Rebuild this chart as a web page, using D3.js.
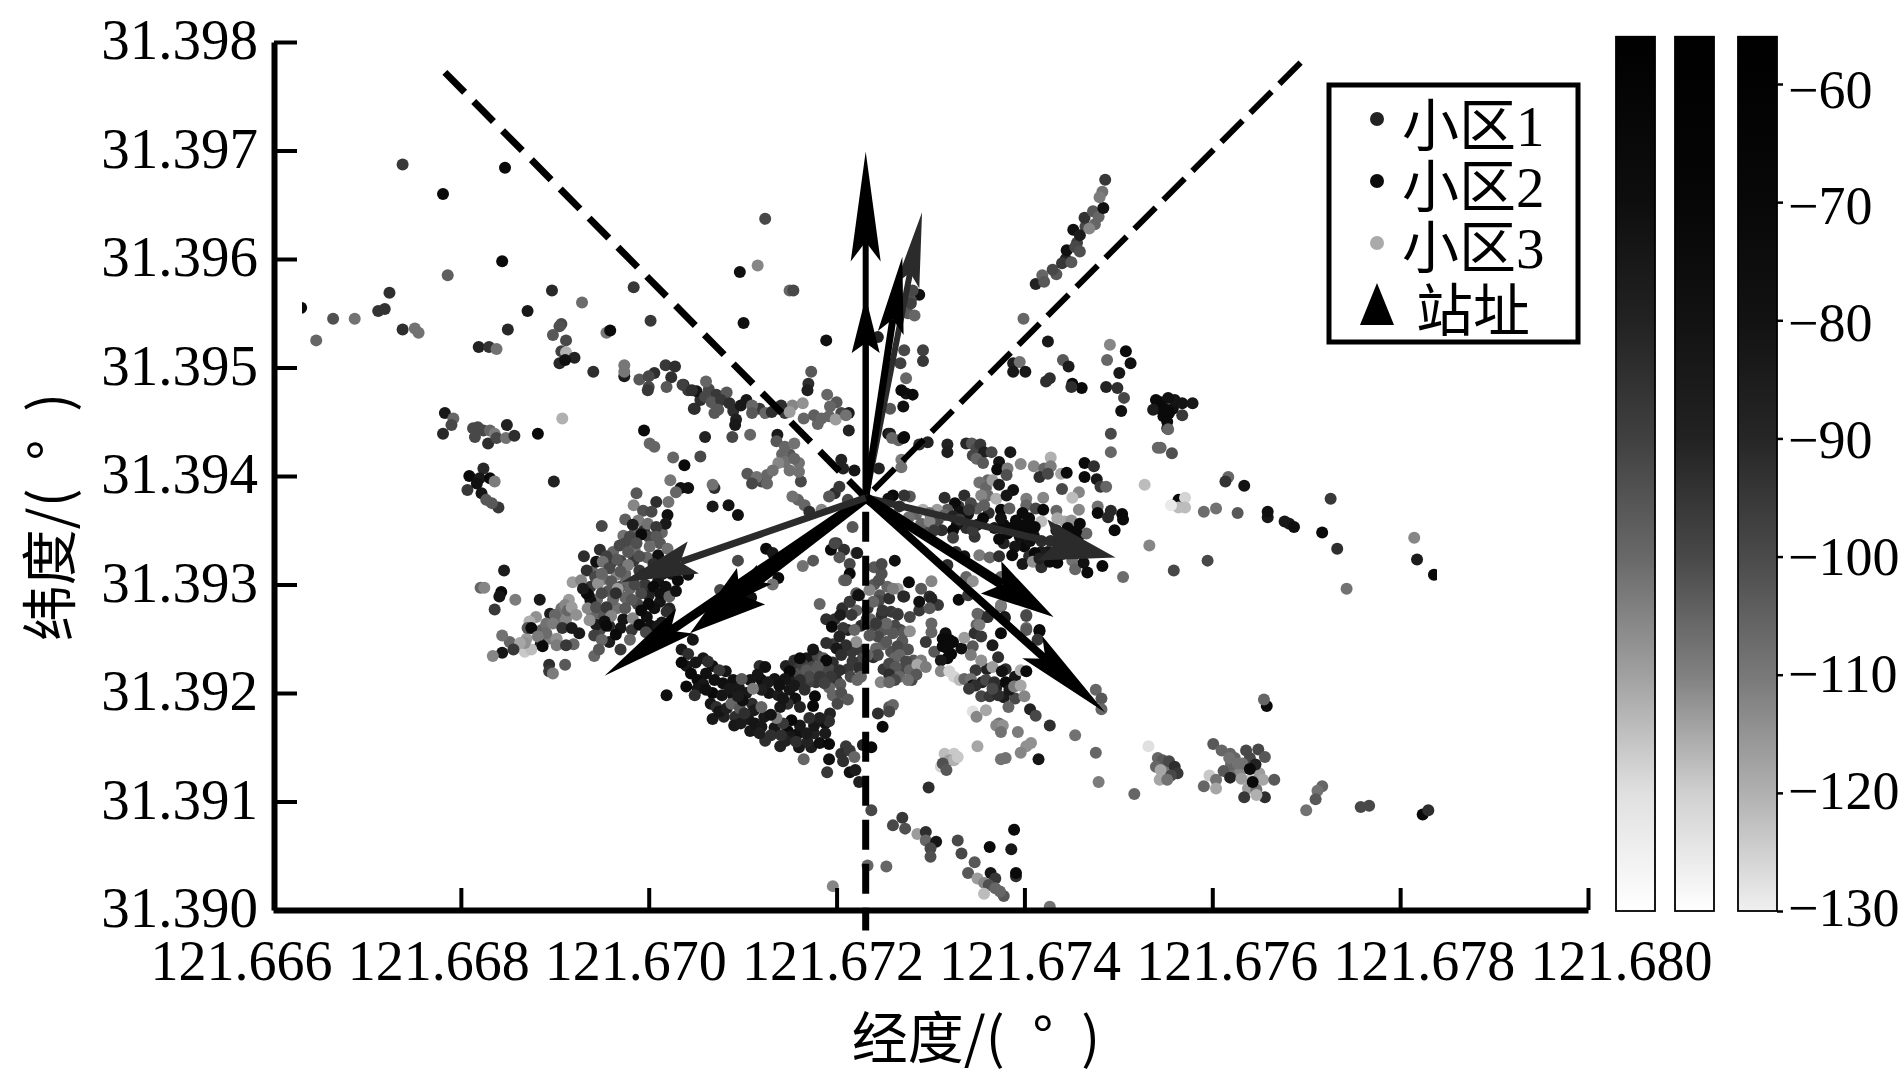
<!DOCTYPE html>
<html><head><meta charset="utf-8">
<script src="https://cdnjs.cloudflare.com/ajax/libs/d3/7.8.5/d3.min.js"></script>
<style>html,body{margin:0;padding:0;background:#fff;overflow:hidden}</style>
</head><body><div id="chart"></div>
<script>
// Measured points: [lon, lat, RSRP]; lon and lat in 1e-5 degree above the base values
const BASE_LON = 121.66, BASE_LAT = 31.39;
const xTicks = [121.666,121.668,121.670,121.672,121.674,121.676,121.678,121.680];
const yTicks = [31.390,31.391,31.392,31.393,31.394,31.395,31.396,31.397,31.398];
const cbTicks = [-60,-70,-80,-90,-100,-110,-120,-130];
const cellNames = ["小区1","小区2","小区3"];
const siteName = "站址";
const xTitle = "经度/(\u2002°\u2002)", yTitle = "纬度/(\u2002°\u2002)";

// points inside the dense clusters
const cell3Dense = [
[975,360,-98],[985,348,-100],[995,350,-84],[1014,348,-100],[973,345,-104],[962,330,-100],[975,338,-92],[1000,344,-92],[1012,338,-96],[960,320,-88],[985,332,-104],[998,325,-100],[1012,316,-88],[970,322,-92],[984,322,-88],[948,332,-84],[940,312,-100],[952,305,-104],[966,309,-108],[938,298,-88],[945,286,-100],[957,294,-96],[970,298,-92],[980,296,-100],[996,300,-88],[1010,303,-70],[1018,298,-66],[938,285,-66],[950,272,-96],[966,278,-104],[975,288,-100],[988,282,-92],[998,270,-66],[1012,284,-70],[1022,278,-80],[940,272,-100],[958,262,-84],[970,260,-70],[982,258,-88],[1002,262,-66],[1014,265,-72],[948,258,-92],[958,247,-76],[936,290,-66],[1000,290,-80],[975,310,-100],[1018,318,-70],[1024,310,-72],
[1040,225,-72],[1050,228,-70],[1052,212,-62],[1058,208,-72],[1068,225,-66],[1082,220,-70],[1090,212,-66],[1096,205,-72],[1052,204,-70],[1068,200,-62],[1078,198,-70],[1090,198,-66],[1104,200,-72],[1110,190,-84],[1108,212,-70],[1120,212,-66],[1128,200,-70],[1138,198,-76],[1150,203,-70],[1156,195,-66],[1148,190,-84],[1140,187,-72],[1066,190,-70],[1080,178,-80],[1068,176,-72],[1092,178,-84],[1106,176,-72],[1112,184,-76],[1108,165,-72],[1123,178,-72],[1134,168,-72],[1148,165,-62],[1158,162,-66],[1176,163,-80],[1176,170,-72],[1150,160,-72],[1124,156,-84],[1140,151,-80],[1146,156,-80],[1160,150,-72],[1173,150,-76],[1188,172,-66],[1118,225,-84],
[1146,225,-80],[1155,230,-84],[1172,232,-84],[1178,210,-88],[1168,232,-72],[1158,222,-88],[1188,222,-90],[1196,228,-84],[1200,212,-84],[1212,222,-88],[1216,238,-88],[1212,258,-80],[1224,240,-88],[1228,232,-92],[1226,262,-84],[1198,268,-84],[1206,278,-84],[1196,245,-88],[1180,234,-92],[1170,210,-90],[1192,205,-100],[1204,208,-96],[1215,215,-92],[1222,212,-100],[1186,232,-96],[1204,272,-76],[1174,224,-92],[1160,218,-94],[1150,212,-78],[1164,226,-90],[1179,218,-100],[1192,222,-92],
[1064,480,-92],[1072,475,-88],[1083,477,-96],[1090,460,-84],[1104,470,-72],[1118,462,-88],[1136,462,-92],[1145,458,-88],[1070,458,-96],[1055,470,-84],[1153,465,-108],[1180,448,-100],[1192,455,-100],[1205,458,-92],[1150,420,-96],[1160,412,-104],[1142,420,-100],[1120,395,-92],[1150,405,-104],
[880,270,-110],[886,258,-100],[905,268,-104],[912,268,-108],[893,250,-106],[915,286,-112],[870,250,-112],[852,247,-100],[885,245,-80],[920,245,-100],[907,278,-104],[868,238,-120]
];
const cell2Dense = [
[1232,268,-92],[1240,262,-92],[1250,258,-96],[1262,262,-92],[1270,248,-96],[1258,238,-94],[1250,245,-100],[1270,222,-92],[1282,230,-96],[1262,232,-100],[1250,222,-88],[1280,212,-92],[1290,230,-106],[1258,275,-88],[1268,258,-92],[1278,270,-92],[1288,276,-88],[1246,290,-96],[1254,298,-100],[1240,300,-96],[1236,268,-100],[1245,285,-92],
[1330,372,-88],[1340,365,-66],[1350,355,-70],[1362,366,-84],[1368,352,-72],[1378,355,-62],[1392,350,-62],[1400,355,-62],[1410,345,-66],[1418,340,-84],[1400,335,-62],[1390,335,-70],[1378,338,-80],[1406,340,-66],[1425,330,-72],[1438,338,-62],[1448,340,-62],[1458,345,-62],[1440,328,-66],[1428,340,-84],[1405,326,-84],[1418,330,-76],[1430,325,-84],[1445,330,-96],[1308,360,-92],[1298,350,-92],[1312,350,-84],[1285,365,-100],[1338,352,-84],[1328,355,-70],
[1360,222,-80],[1380,222,-84],[1390,215,-70],[1370,205,-80],[1378,196,-76],[1355,210,-80],[1390,195,-92],[1318,232,-62],[1322,236,-62],[1316,255,-66],
[1624,140,-100],[1640,140,-92],[1622,128,-104],[1640,120,-120],[1650,126,-112],[1630,128,-108],[1558,130,-96],[1550,128,-110],[1548,132,-104],[1620,134,-100]
];
const cell1Dense = [
[1465,630,-92],[1475,632,-100],[1456,615,-90],[1434,586,-96],[1444,600,-80],[1545,468,-62],[1544,462,-62],[1558,462,-66],[1548,455,-62],[1560,470,-70]
];

const cell3 = [
[738,687,-88],[847,684,-62],[781,660,-62],[844,598,-62],[786,585,-98],[630,555,-62],[664,545,-94],[687,545,-104],[646,525,-100],[724,569,-84],[719,554,-86],[712,552,-86],[738,535,-84],[751,536,-104],[755,532,-104],[819,519,-80],[830,519,-86],[838,517,-104],[850,535,-82],[871,552,-72],[897,571,-82],[929,560,-102],[984,574,-88],[1002,543,-88],
[955,532,-105],[959,534,-62],[907,540,-92],[905,538,-94],[898,530,-96],[912,525,-92],[907,515,-90],[912,514,-116],[921,509,-80],[905,504,-82],[911,507,-66],[941,496,-84],[974,502,-105],[974,492,-75],[974,496,-105],[990,489,-96],[1006,495,-84],[1000,492,-92],[1000,482,-92],[999,479,-88],[1018,502,-88],[1028,501,-84],[1024,491,-84],[1019,482,-96],[1037,484,-74],[1042,479,-88],[1051,478,-70],[1049,462,-82],
[1036,484,-90],[1046,479,-84],[1061,487,-100],[1048,462,-84],[1060,473,-92],[1067,468,-96],[1077,470,-88],[1074,461,-96],[1086,467,-84],[1098,465,-72],[1093,452,-78],[1092,447,-72],[1110,465,-100],[1110,458,-96],[1124,458,-100],[1131,459,-84],[1141,465,-84],[1150,459,-112],[1165,453,-100],[1176,456,-98],[1184,453,-100],[1190,475,-100],[1200,468,-96],[1193,464,-100],[1199,452,-112],[1213,458,-76],[1210,456,-104],[1213,442,-80],[1164,467,-110],[1173,496,-96],[1170,485,-84],[1169,479,-78],
[995,442,-62],[1001,430,-100],[1006,427,-100],[1026,417,-100],[1038,410,-62],[1055,418,-92],[1023,396,-105],[1034,389,-66],[1042,389,-66],[1070,389,-84],[1068,392,-104],[1029,385,-100],[1060,436,-80],[1089,436,-92],[1108,438,-100],[1137,438,-74],[1136,432,-96],[1145,427,-100],[1155,430,-104],[1145,413,-104],[1138,412,-108],[1155,416,-100],[1162,395,-92],[1160,404,-104],
[1105,402,-96],[1115,399,-104],[1126,401,-100],[1132,405,-104],[1110,393,-92],[1126,393,-100],[1068,372,-72],[1085,373,-68],[1095,364,-66],
[783,458,-72],[792,453,-100],[790,447,-92],[781,439,-82],[813,444,-92],[818,445,-92],[815,436,-92],[824,442,-92],[831,442,-100],[836,439,-106],[829,430,-84],[838,435,-92],[849,447,-80],[848,435,-104],[857,437,-84],[882,439,-62],[908,453,-116],
[809,400,-62],[824,407,-82],[820,398,-72],[831,398,-62],[836,395,-106],[807,387,-88],[817,393,-66],[822,384,-70],[827,378,-96],[840,371,-88],[833,375,-96],[899,395,-80],
[1021,376,-104],[1008,376,-84],[987,384,-96],[984,373,-108],[950,354,-92],[1020,364,-66],[1018,356,-72],
[994,368,-94],[1003,367,-92],[989,359,-106],[999,356,-104],[1008,353,-88],[1008,344,-96],[983,355,-76],[992,346,-62],[980,344,-92],[987,338,-94],[969,336,-92],[1001,335,-102],[1010,327,-66],[1020,333,-104],[978,330,-96],[990,326,-94],[966,323,-96],[955,326,-90],[931,326,-84],[944,321,-66],[951,321,-104],[934,313,-84],[978,318,-106],[958,315,-92],[943,307,-92],[919,302,-112],[928,304,-108],[960,303,-96],[946,301,-110],[976,304,-100],[990,313,-88],[1005,319,-84],
[934,292,-62],[930,296,-74],[950,292,-92],[967,296,-112],[962,286,-100],[982,286,-96],[992,292,-92],[1005,298,-62],[1012,292,-66],[1022,289,-100],[1031,304,-62],[1042,309,-66],[1029,294,-66],[935,278,-108],[944,279,-94],[955,279,-88],[960,271,-108],[973,268,-70],[983,269,-108],[992,276,-62],[1006,278,-66],[1019,275,-84],[944,263,-76],[953,266,-66],[965,254,-62],[980,249,-100],[990,263,-62],[997,256,-92],[942,253,-90],[950,249,-100],[942,234,-100],[947,240,-96],[937,267,-110],
[970,312,-96],[985,300,-92],[950,310,-100],[965,292,-84],[975,278,-96],[1000,282,-62],[1010,262,-72],[995,310,-84],[1015,310,-78],[955,262,-62],[970,240,-88],
[846,313,-76],[821,297,-100],[825,297,-108],[843,293,-62],[841,289,-70],[858,286,-106],[836,277,-88],[884,286,-72],[911,281,-108],[914,276,-100],[918,279,-112],[923,272,-110],[895,273,-76],[900,272,-100],[891,264,-104],[898,264,-106],[873,266,-116],[871,260,-96],[875,260,-62],[891,255,-102],[882,252,-106],[902,250,-110],[902,244,-106],[908,260,-86],[918,260,-72],[926,255,-72],[912,244,-88],[887,243,-62],[875,240,-118],[868,246,-110],[863,246,-114],[856,240,-88],[844,253,-104],[844,237,-70],[834,234,-108],[894,226,-84],[894,220,-88],[898,218,-106],[911,226,-96],
[1095,322,-92],[1125,333,-62],[1132,329,-72],[1138,306,-62],[1132,300,-104],[1164,317,-104],[1175,322,-96],[1109,288,-66],[1076,295,-92],
[1198,384,-84],[1212,378,-92],[1203,390,-88],[1192,381,-96],[1159,378,-100],[1153,381,-104],[1166,373,-100],[1184,369,-108],[1171,367,-84],
[1200,338,-88],[1208,332,-84],[1203,325,-96],[1214,319,-92],[1221,329,-100],[1208,304,-100],[1214,310,-62],[1221,292,-96],[1214,284,-88],[1221,276,-100],[1194,332,-62],[1217,353,-96],[1198,338,-92],[1222,329,-76],[1210,304,-96],[1224,290,-84],
[1182,282,-100],[1189,268,-84],[1195,261,-62],[1214,284,-88],[1223,290,-66],[1216,272,-88],[1207,260,-88],[1219,258,-100],[1221,247,-110],[1203,252,-80],[1210,244,-84],[1200,241,-72],[1189,246,-84],[1175,240,-70],[1161,232,-62],[1189,230,-62],[1205,235,-84],[1217,229,-88],[1224,223,-84],[1226,215,-100],[1203,221,-84],[1194,215,-88],[1180,224,-96],[1168,221,-96],[1171,215,-92],[1182,215,-88],[1187,209,-90],[1161,212,-84],[1150,220,-62],[1145,213,-70],[1134,213,-70],[1124,224,-66],[1116,217,-70],[1127,210,-74],[1120,203,-78],[1139,207,-66],[1155,207,-72],[1166,203,-84],[1196,198,-100],[1205,200,-94],[1212,194,-96],[1201,190,-92],[1177,197,-62],[1175,188,-62],[1161,187,-80],[1143,195,-70],
[1193,181,-80],[1192,174,-84],[1182,177,-78],[1171,177,-84],[1161,170,-72],[1152,175,-62],[1143,172,-88],[1136,177,-106],[1130,180,-68],[1113,172,-70],[1120,169,-72],[1118,163,-78],[1130,161,-84],[1141,161,-84],[1157,155,-84],[1169,155,-80],[1182,154,-66],[1192,153,-62],[1168,163,-74],[1188,163,-74],[1091,170,-72],[1098,172,-74],[1165,139,-100],[1192,139,-66],[1190,127,-88],
[1210,151,-88],[1205,144,-84],[1214,147,-88],[1219,141,-100],[1207,137,-84],[1214,127,-66],[1220,129,-76],[1224,118,-78],[1228,152,-80],
[1047,249,-70],[1035,240,-72],[1042,236,-84],[1035,228,-62],[1058,232,-72],[1063,229,-84],[1045,218,-62],[1040,206,-62],[1061,218,-66],[1075,221,-88],[1070,212,-66],[1079,209,-66],[1086,204,-72],[1061,203,-66],[1049,198,-84],[1019,198,-66],[1099,213,-96],[1072,187,-84],[1075,183,-70],[1083,186,-78],[1088,190,-100],[1097,186,-96],[1100,193,-66],[1102,181,-84],[1111,204,-106],[1120,187,-100],[1095,197,-76],
[1196,22,-108]
];

const cell2 = [
[1237,92,-92],[1233,41,-100],[1253,40,-100],[1237,150,-62],[1260,78,-92],[1270,85,-88],[1273,75,-94],[1286,70,-112],[1295,72,-84],[1295,64,-100],[1306,63,-70],[1300,57,-92],[1300,49,-94],[1329,64,-92],[1333,52,-92],[1347,44,-96],[1363,58,-62],[1389,74,-62],[1386,56,-72],[1391,31,-84],[1391,34,-62],[1364,34,-70],[1369,29,-88],[1340,34,-96],[1350,29,-112],[1357,25,-108],[1362,23,-94],[1369,20,-100],[1378,13,-96],[1357,15,-118],[1374,17,-100],[1427,3,-104],
[1272,436,-62],[1266,433,-100],[1255,439,-66],[1269,415,-106],[1269,408,-104],[1288,429,-84],[1297,431,-80],[1318,429,-80],[1318,422,-78],[1338,430,-82],[1344,430,-96],[1349,425,-92],[1353,429,-88],[1357,422,-78],[1345,419,-92],[1349,416,-100],[1356,412,-96],[1365,422,-92],
[1385,422,-72],[1373,413,-68],[1371,406,-62],[1382,407,-106],[1381,401,-94],[1396,411,-108],[1410,409,-108],[1421,407,-100],[1428,417,-116],[1428,409,-106],[1416,399,-84],[1425,402,-92],[1439,402,-114],[1445,403,-62],[1464,412,-62],[1474,409,-84],[1464,399,-62],[1477,397,-72],[1481,390,-88],[1487,390,-100],[1440,388,-92],[1458,385,-108],[1451,380,-118],[1458,369,-108],
[1361,396,-100],[1352,394,-104],[1359,389,-100],[1366,396,-112],[1361,382,-102],[1354,382,-108],[1370,379,-116],[1373,392,-76],[1388,387,-66],[1381,382,-70],[1349,370,-98],[1357,373,-98],[1336,382,-84],[1343,375,-92],[1315,380,-84],[1326,375,-62],[1331,367,-66],[1318,369,-96],[1307,369,-112],[1292,369,-116],[1299,366,-104],[1315,364,-100],[1341,369,-88],[1324,363,-80],[1331,360,-88],
[1278,381,-96],[1272,382,-86],[1260,382,-62],[1255,379,-66],[1267,372,-84],[1277,362,-104],[1290,356,-100],[1299,358,-108],[1304,350,-88],[1324,350,-62],[1324,343,-90],[1347,344,-86],[1345,350,-88],[1356,361,-62],[1375,369,-62],[1375,361,-66],[1384,370,-98],[1402,379,-106],[1402,373,-100],[1420,380,-108],[1412,370,-92],[1420,369,-62],[1434,368,-100],[1435,361,-114],[1443,358,-114],[1450,359,-110],[1418,358,-118],[1398,366,-62],[1391,359,-62],[1405,361,-62],[1388,353,-62],[1402,350,-62],[1411,353,-62],[1382,347,-62],[1395,344,-66],[1373,342,-62],[1387,327,-62],[1398,319,-72],[1411,329,-62],[1409,321,-110],[1418,316,-84],[1427,321,-62],[1435,320,-62],[1416,324,-80],[1459,356,-62],[1466,347,-100],[1455,349,-62],[1446,352,-62],[1434,350,-66],[1451,322,-104],[1454,314,-100],[1463,320,-66],[1467,311,-62],[1483,317,-62],[1478,372,-104],[1478,366,-62],[1489,362,-82],[1492,368,-82],[1504,365,-62],[1505,360,-62],[1496,350,-62],[1528,392,-118],[1533,336,-108],[1505,307,-102],[1492,439,-92],[1492,422,-100],[1542,426,-100],
[1352,327,-106],[1363,325,-100],[1373,326,-84],[1318,318,-84],[1327,330,-84],[1336,326,-66],[1338,307,-100],[1345,303,-110],[1375,307,-100],[1375,280,-100],[1330,286,-62],[1340,290,-88],[1352,272,-92],[1360,270,-76],[1379,270,-66],[1402,272,-96],[1402,260,-100],[1416,258,-62],[1349,263,-100],
[1240,316,-96],[1248,310,-94],[1262,322,-66],[1235,295,-108],[1256,287,-84],[1265,296,-112],[1277,302,-62],[1290,296,-96],[1301,303,-108],[1299,289,-84],[1288,284,-66],[1308,281,-88],[1271,289,-78],[1265,273,-92],[1248,272,-84],[1233,278,-88],[1248,319,-92],[1245,304,-94],[1260,296,-106],
[1272,289,-82],[1301,287,-80],[1299,278,-96],[1301,264,-100],[1301,256,-100],[1295,247,-88],[1239,284,-100],[1249,276,-88],[1265,272,-88],[1253,264,-100],[1260,255,-96],[1272,256,-96],[1278,257,-110],[1242,264,-88],[1244,252,-92],[1235,253,-96],[1253,247,-96],[1265,243,-92],[1276,240,-94],[1267,235,-100],[1256,227,-92],[1263,224,-96],[1274,229,-92],[1256,217,-84],[1267,215,-100],[1278,221,-100],[1286,226,-114],[1295,224,-106],[1285,217,-96],[1276,212,-104],[1262,212,-92],[1247,210,-108],[1256,210,-100],[1242,241,-100],[1239,233,-84],[1244,235,-92],[1233,235,-100],
[1304,238,-96],[1313,250,-62],[1320,249,-62],[1313,243,-62],[1318,241,-62],[1311,230,-72],[1333,241,-66],[1324,247,-62],
[1336,251,-112],[1347,255,-84],[1354,252,-88],[1345,243,-96],[1343,235,-106],[1354,230,-110],[1366,244,-76],[1372,233,-84],[1366,224,-112],[1348,221,-88],[1376,220,-68],[1380,210,-62],[1396,221,-116],[1402,220,-62],[1416,257,-62],[1402,271,-92],[1402,258,-96],[1414,249,-88],[1375,281,-106],[1379,269,-74],[1375,255,-62],[1350,273,-100],[1361,270,-84],[1352,263,-106],
[1311,220,-108],[1320,220,-122],[1325,215,-122],[1331,212,-118],[1336,213,-100],[1343,213,-104],[1345,207,-62],[1348,207,-84],[1341,204,-88],[1354,197,-92],[1363,197,-88],[1372,198,-84],[1359,212,-92],[1368,210,-84],[1366,204,-92],[1384,203,-72],[1389,206,-106],[1396,207,-114],[1400,197,-108],[1383,187,-100],[1406,185,-80],[1412,179,-92],[1427,170,-84],[1454,161,-104],
[1345,183,-124],[1349,178,-108],[1359,184,-114],[1373,172,-104],[1370,170,-108],[1377,170,-110],[1375,164,-104],[1393,164,-106],[1407,154,-110],[1402,151,-110],[1396,145,-108],[1350,151,-114],[1380,140,-104],[1375,139,-104],[1415,139,-70],
[1315,144,-118],[1325,144,-120],[1320,138,-112],[1325,138,-116],[1311,132,-122],[1329,141,-120],[1313,135,-94],[1317,129,-96],[1298,113,-84],
[1256,187,-96],[1260,189,-100],[1256,183,-92],[1244,181,-84],[1249,169,-62],
[1517,107,-100],[1479,118,-106],[1476,145,-100],[1532,151,-124],[1476,203,-100],[1482,195,-96],[1482,185,-100],
[1557,421,-94],[1552,444,-84],[1617,399,-100],[1614,395,-86],[1634,391,-68],[1564,378,-62],[1564,371,-118],[1571,380,-122],[1571,371,-118],[1556,373,-126],[1591,367,-102],[1604,370,-104],[1627,366,-96],[1659,362,-72],[1659,367,-66],[1677,358,-72],[1682,356,-72],[1687,353,-66],[1717,348,-62],[1726,379,-88],[1733,333,-84],[1743,296,-104],[1815,343,-108],[1818,323,-76],[1836,309,-62],[1559,313,-92],[1595,322,-92],
[1658,188,-62],[1655,194,-100],[1542,140,-100],[1547,138,-96],[1554,137,-92],[1560,132,-84],[1563,126,-88],[1556,124,-92],[1540,132,-100],[1545,129,-114],[1544,120,-114],[1552,120,-104],
[1601,153,-96],[1610,147,-100],[1619,144,-100],[1618,140,-104],[1636,147,-92],[1649,148,-92],[1656,141,-96],[1632,135,-104],[1627,135,-104],[1597,124,-120],[1604,120,-104],[1604,112,-114],[1591,114,-100],[1612,128,-96],[1619,122,-80],[1631,121,-112],[1654,120,-114],[1666,120,-96],[1638,112,-112],[1647,111,-104],[1634,104,-88],[1656,104,-84],[1647,106,-116],[1646,134,-80],[1640,130,-62],[1643,118,-62],
[1717,114,-100],[1712,110,-104],[1710,102,-96],[1700,92,-104],[1758,95,-92],[1767,96,-92],[1824,88,-62],[1830,92,-84]
];

const cell1 = [
[1116,594,-108],[1124,637,-92],[1097,588,-66],[1101,541,-66],[1150,571,-100],[1154,571,-92],[1189,525,-66],[1244,528,-80],[1272,516,-92],[1292,516,-90],[1292,506,-88],[1268,504,-90],[1274,490,-100],[1274,476,-70],[1269,479,-62],[1281,475,-62],[1271,464,-66],[1257,462,-96],[1288,567,-66],[1279,562,-94],[1276,550,-96],[1281,571,-92],[1279,559,-90],[1283,548,-100],
[1257,439,-78],[1259,435,-100],[1271,435,-62],[1245,407,-80],[1219,405,-70],[1205,415,-80],[1207,407,-80],
[1399,545,-100],[1425,524,-72],[1412,577,-80],[1419,585,-100],[1430,590,-92],[1421,579,-96],[1440,596,-88],[1450,597,-96],[1445,608,-66],[1454,611,-92],[1459,607,-94],[1452,627,-66],[1459,622,-76],[1469,628,-108],[1464,638,-86],[1473,644,-96],[1479,639,-100],[1484,647,-66],[1486,673,-88],[1483,662,-104],[1480,657,-106],
[1388,504,-78],[1395,505,-104],[1401,496,-72],[1388,496,-72],[1423,487,-84],[1427,490,-84],[1441,507,-96],[1447,501,-76],[1451,485,-62],[1461,481,-62],[1450,482,-84],
[1491,521,-108],[1488,507,-100],[1508,515,-62],[1513,504,-66],[1501,495,-72],[1487,482,-80],[1499,481,-84],[1506,472,-92],[1503,460,-66],
[1540,470,-62],[1553,472,-66],[1537,461,-76],[1549,462,-62],[1554,458,-62],[1552,450,-62],[1568,467,-70],[1579,467,-72],[1568,456,-88],[1553,443,-100],
[1545,426,-100]
];

const cells = [cell3Dense, cell3, cell2Dense, cell2, cell1Dense, cell1];
const bar1Gray = ["#ffffff","#e0e0e0","#a0a0a0","#686868","#404040","#222222","#0e0e0e","#000000"];
const bar2Gray = ["#ffffff","#d0d0d0","#808080","#484848","#222222","#121212","#060606","#000000"];
const bar3Gray = ["#f0f0f0","#b0b0b0","#787878","#4a4a4a","#262626","#121212","#080808","#000000"];
const bars = [bar1Gray, bar2Gray, bar3Gray];
const barDbm = [-130,-120,-110,-100,-90,-80,-70,-56];
const dotDbm = [-130,-124,-120,-116,-112,-108,-104,-100,-96,-92,-88,-84,-80,-76,-72,-66,-62,-56];
const dotGray = ["#ffffff","#e0e0e0","#c8c8c8","#b0b0b0","#9c9c9c","#868686","#727272","#666666","#585858","#484848","#383838","#2e2e2e","#222222","#1c1c1c","#181818","#101010","#0a0a0a","#000000"];

// Base station, sector boundaries and beam arrows (same units as the points)
const site = [1231,380];
const sectorEnds = [[783,772],[1694,781],[1231,-19]];
const beamTips = [[1231,699],[1231,565],[1291,643],[1270,602],[1497,325],[1431,270],[1486,182],[953,216],[1072,276],[1044,255],[971,302]];
const beamShade = ["k","k","g","k","g","k","k","k","k","k","g"];

const W = 1902, H = 1087;
const SERIF = '"Liberation Serif","Noto Sans CJK SC",serif';
const CJK = '"Noto Sans CJK SC","Liberation Serif",serif';
const x = d3.scaleLinear().domain([121.666,121.680]).range([273,1588]);
const y = d3.scaleLinear().domain([31.390,31.398]).range([910,42]);
const xLabelPos = d3.scaleLinear().domain([121.666,121.680]).range([241,1621]);
const px = d => x(BASE_LON + d[0]*1e-5), py = d => y(BASE_LAT + d[1]*1e-5);
const color = d3.scaleLinear().domain(dotDbm).range(dotGray);
const cbY = d3.scaleLinear().domain([-130,-60]).range([911,84]);
const cbLabelY = d3.scaleLinear().domain([-130,-60]).range([905,86.5]);

const svg = d3.select("#chart").append("svg").attr("width",W).attr("height",H).style("display","block").style("background","#fff");
const defs = svg.append("defs");
defs.append("clipPath").attr("id","plot").append("rect").attr("x",302).attr("y",42).attr("width",1437-302).attr("height",868);

// dots
const dots = svg.append("g").attr("clip-path","url(#plot)");
cells.forEach(c => dots.append("g").selectAll("circle").data(c).join("circle")
  .attr("cx",px).attr("cy",py).attr("r",6).attr("fill",d=>color(d[2])));

// sector boundaries
const sectorStyle = [{w:7,dash:"28 13"},{w:6,dash:"30 11"}];
sectorEnds.slice(0,2).forEach((e,i)=>{
  svg.append("line").attr("x1",px(e)).attr("y1",py(e)).attr("x2",px(site)).attr("y2",py(site))
    .attr("stroke","#000").attr("stroke-width",sectorStyle[i].w).attr("stroke-dasharray",sectorStyle[i].dash);
});
svg.append("line").attr("x1",px(site)).attr("y1",py(site)).attr("x2",px(sectorEnds[2])).attr("y2",py(sectorEnds[2]))
  .attr("stroke","#000").attr("stroke-width",7).attr("stroke-dasharray","30 14").attr("stroke-dashoffset",30);

// arrows
const headLen = [110,56,75,77,75,74,98,97,60,77,76];
const headHalf = [15,14,12,13,21,19,15,15,12,23,17];
const shaftW = [6,6,6,7,7,10,8,9,7,10,7];
const arrowG = svg.append("g");
const line = d3.line();
beamTips.forEach((t,i)=>{
  const x0=px(site),y0=py(site),x1=px(t),y1=py(t);
  const L=Math.hypot(x1-x0,y1-y0),ux=(x1-x0)/L,uy=(y1-y0)/L,nx=-uy,ny=ux;
  const c=beamShade[i]==="k"?"#000":"#2b2b2b";
  const h=headLen[i],w=headHalf[i],nb=h*0.82;
  arrowG.append("line").attr("x1",x0).attr("y1",y0).attr("x2",x1-ux*nb).attr("y2",y1-uy*nb)
    .attr("stroke",c).attr("stroke-width",shaftW[i]);
  arrowG.append("path").attr("fill",c).attr("d",line([
    [x1,y1],[x1-ux*h+nx*w,y1-uy*h+ny*w],[x1-ux*nb,y1-uy*nb],[x1-ux*h-nx*w,y1-uy*h-ny*w]])+"Z");
});

// axes
const gx = svg.append("g").attr("transform","translate(0,910)")
  .call(d3.axisBottom(x).tickValues(xTicks).tickSize(-22).tickSizeOuter(0).tickFormat(d3.format(".3f")));
gx.selectAll("text").attr("x",d=>xLabelPos(d)-x(d)).attr("y",70).attr("dy",0);
const gy = svg.append("g").attr("transform","translate(274,0)")
  .call(d3.axisLeft(y).tickValues(yTicks).tickSize(-23).tickSizeOuter(0).tickFormat(d3.format(".3f")));
gy.selectAll("text").attr("x",-16).attr("dy","0.29em");
[gx,gy].forEach(g=>{
  g.select(".domain").attr("stroke","#000").attr("stroke-width",6);
  g.selectAll(".tick line").attr("stroke","#000").attr("stroke-width",4);
  g.selectAll("text").attr("fill","#000").attr("font-family",SERIF).attr("font-size",56);
});
gy.selectAll("text").attr("font-size",57);
gx.selectAll(".tick").filter(d=>d===121.666).select("line").remove();

// axis titles
svg.append("text").attr("x",976).attr("y",1058).attr("text-anchor","middle").attr("font-family",CJK)
  .attr("font-size",56).style("white-space","pre").text(xTitle);
svg.append("text").attr("transform","translate(70,517) rotate(-90)").attr("text-anchor","middle").attr("font-family",CJK)
  .attr("font-size",56).style("white-space","pre").text(yTitle);

// colour bars
const barX = [1616,1675,1738], barW = 39;
bars.forEach((stops,i)=>{
  const g = defs.append("linearGradient").attr("id","cb"+i).attr("x1",0).attr("x2",0).attr("y1",1).attr("y2",0);
  stops.forEach((c,j)=>g.append("stop").attr("offset",(barDbm[j]+130)/74).attr("stop-color",c));
  svg.append("rect").attr("x",barX[i]).attr("y",cbY(-56)).attr("width",barW).attr("height",cbY(-130)-cbY(-56))
    .attr("fill",`url(#cb${i})`).attr("stroke","#000").attr("stroke-width",1.8);
});
const gc = svg.append("g").attr("transform","translate(1777,0)")
  .call(d3.axisRight(cbY).tickValues(cbTicks).tickSize(6).tickSizeOuter(0).tickFormat(d=>"\u2212"+Math.abs(d)));
gc.select(".domain").remove();
gc.selectAll(".tick line").attr("stroke","#000").attr("stroke-width",2.5);
gc.selectAll("text").attr("x",11).attr("y",d=>cbLabelY(d)-cbY(d)).attr("dy","0.38em").attr("fill","#000").attr("font-family",SERIF).attr("font-size",54);

// legend
svg.append("rect").attr("x",1329).attr("y",85).attr("width",249).attr("height",257)
  .attr("fill","#fff").attr("stroke","#000").attr("stroke-width",5);
const legGray = ["#222222","#0c0c0c","#aaaaaa"], legDot = [119,181,243], legTxt = [127,188,249];
cellNames.forEach((n,i)=>{
  svg.append("circle").attr("cx",1377).attr("cy",legDot[i]).attr("r",7).attr("fill",legGray[i]);
  const t = svg.append("text").attr("x",1402).attr("y",legTxt[i]+19).attr("font-size",57).attr("fill","#000");
  t.append("tspan").attr("font-family",CJK).text(n.slice(0,2));
  t.append("tspan").attr("font-family",SERIF).text(n.slice(2));
});
svg.append("path").attr("fill","#000").attr("d",line([[1377,283],[1394,325],[1360,325]])+"Z");
svg.append("text").attr("x",1416).attr("y",331).attr("font-size",57).attr("font-family",CJK).attr("fill","#000").text(siteName);
</script></body></html>
